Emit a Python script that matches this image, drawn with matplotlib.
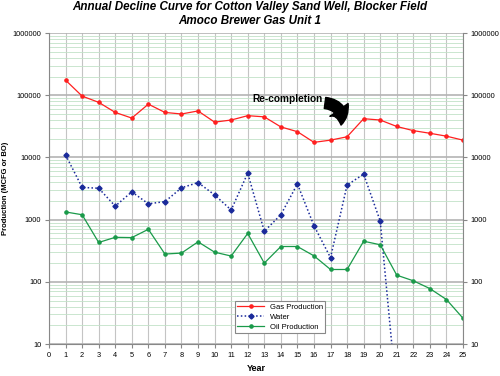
import numpy as np
import matplotlib
matplotlib.use('Agg')
import matplotlib.pyplot as plt
from matplotlib.patches import FancyArrowPatch
from matplotlib.ticker import LogLocator, FixedLocator, NullFormatter

years = list(range(1, 26))
gas = [175000, 97000, 77000, 53000, 43000, 72000, 53000, 50000, 56000, 37000,
       40000, 47000, 45000, 31000, 26000, 17500, 19000, 21500, 42000, 40000,
       31500, 27000, 24500, 22000, 19000]
water = [11000, 3300, 3200, 1650, 2800, 1800, 1950, 3250, 3950, 2500,
         1430, 5600, 650, 1200, 3750, 800, 245, 3600, 5400, 950,
         1.4, np.nan, np.nan, np.nan, np.nan]
oil = [1330, 1200, 430, 520, 515, 700, 280, 290, 440, 300,
       260, 600, 200, 370, 370, 262, 158, 158, 450, 395,
       128, 104, 78, 52, 26]

plt.rcParams['font.family'] = 'Liberation Sans'

fig = plt.figure(figsize=(5, 3.76), dpi=100)
ax = fig.add_axes([0.098, 0.085, 0.828, 0.827])

ax.plot(years, gas, color='#ff2020', lw=0.9, marker='o', ms=2.3, label='Gas Production')
ax.plot(years, water, color='#1a2a9a', lw=1.1, ls=(0, (1, 1.5)), marker='D', ms=2.6,
        label='Water')
ax.plot(years, oil, color='#1a9a4a', lw=0.9, marker='o', ms=2.3, label='Oil Production')

ax.set_yscale('log')
ax.set_ylim(10, 1000000)
ax.set_xlim(0, 25)
ax.set_xticks(range(0, 26))
ax.yaxis.set_major_locator(FixedLocator([10, 100, 1000, 10000, 100000, 1000000]))
ax.set_yticklabels(['10', '100', '1000', '10000', '100000', '1000000'])
ax.yaxis.set_minor_locator(LogLocator(base=10, subs=np.arange(2, 10)))
ax.yaxis.set_minor_formatter(NullFormatter())

ax.grid(True, which='major', axis='x', color='#c4c4c4', lw=0.8)
ax.grid(True, which='major', axis='y', color='#b4b4b4', lw=1.2)
ax.grid(True, which='minor', axis='y', color='#c2e2c8', lw=0.6)
ax.set_axisbelow(True)

ax.tick_params(axis='both', which='major', labelsize=5.3, length=3, color='#888888',
               pad=2.5)
ax.tick_params(axis='y', which='minor', length=0)
ax.tick_params(axis='y', which='both', right=True, labelright=True)
for s in ax.spines.values():
    s.set_color('#888888')
ax.spines['top'].set_visible(False)

ax.set_xlabel('Year', fontsize=6.5, fontweight='bold', labelpad=4)
# y label placed by hand so it stays inside the figure
fig.text(0.012, 0.5, 'Production (MCFG or BO)', rotation=90, ha='center', va='center',
         fontsize=5.5, fontweight='bold')

fig.text(0.5, 0.981, 'Annual Decline Curve for Cotton Valley Sand Well, Blocker Field',
         ha='center', va='center', fontsize=8.4, fontweight='bold', style='italic')
fig.text(0.5, 0.944, 'Amoco Brewer Gas Unit 1',
         ha='center', va='center', fontsize=8.4, fontweight='bold', style='italic')

ax.text(14.4, 87000, 'Re-completion', ha='center', va='center', fontsize=7.3,
        fontweight='bold')
arrow = FancyArrowPatch((16.5, 76000), (17.6, 30000), connectionstyle='arc3,rad=-0.6',
                        arrowstyle='simple,head_width=1.6,head_length=1.1,tail_width=0.8',
                        mutation_scale=10, color='black')
ax.add_patch(arrow)

leg = ax.legend(loc='lower left', bbox_to_anchor=(0.449, 0.035), fontsize=5.5,
                frameon=True, fancybox=False, edgecolor='#888888', framealpha=1,
                handlelength=3.5, borderpad=0.3, labelspacing=0.35, borderaxespad=0)
leg.get_frame().set_linewidth(0.8)

fig.savefig('out.png', dpi=100)
